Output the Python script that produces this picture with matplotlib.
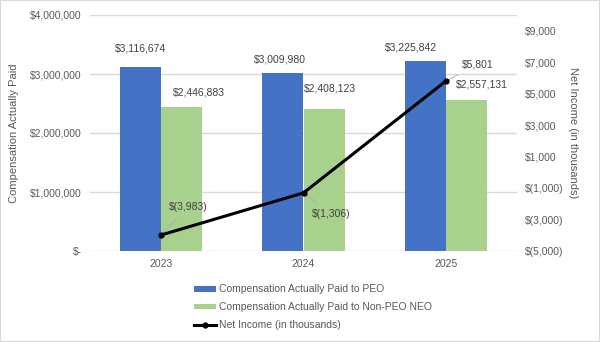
import matplotlib.pyplot as plt
import numpy as np

# datos
years = ['2023', '2024', '2025']
cap_peo = [3116674, 3009980, 3225842]
cap_non_peo = [2446883, 2408123, 2557131]
net_income = [-3983, -1306, 5801]

plt.rcParams['font.family'] = ['Liberation Sans', 'DejaVu Sans']
gray = '#595959'

fig = plt.figure(figsize=(6, 3.42), dpi=100)
ax = fig.add_axes([90/600, 1-251/342, 427/600, 236/342])
ax2 = ax.twinx()

x = np.arange(len(years))
w = 0.29
b1 = ax.bar(x - w/2, cap_peo, w, color='#4472C4', label='Compensation Actually Paid to PEO', zorder=2)
b2 = ax.bar(x + w/2, cap_non_peo, w, color='#A9D18E', label='Compensation Actually Paid to Non-PEO NEO', zorder=2)

ax.set_ylim(0, 4000000)
ax.set_xlim(-0.5, 2.5)
ax.set_yticks([0, 1000000, 2000000, 3000000, 4000000])
ax.set_yticklabels(['$-', '$1,000,000', '$2,000,000', '$3,000,000', '$4,000,000'])
ax.set_xticks(x)
ax.set_xticklabels(years)
ax.grid(axis='y', color='#D9D9D9', linewidth=1, zorder=0)
ax.set_axisbelow(True)
for s in ax.spines.values():
    s.set_visible(False)
for s in ax2.spines.values():
    s.set_visible(False)
ax.tick_params(length=0, labelsize=7.5, colors=gray, pad=6)
ax.set_ylabel('Compensation Actually Paid', fontsize=8, color=gray, labelpad=8)

# etiquetas de barras (desplazamientos en puntos, colocadas a mano como en el original)
peo_off = [(0, 13.5), (-2, 10), (-10, 9.5)]
non_off = [(12, 10), (4, 14.5), (11, 11)]
for i in range(len(years)):
    ax.annotate('${:,}'.format(cap_peo[i]), (x[i] - w/2, cap_peo[i]), xytext=peo_off[i],
                textcoords='offset points', ha='center', va='center', fontsize=7.5, color='#404040')
    ax.annotate('${:,}'.format(cap_non_peo[i]), (x[i] + w/2, cap_non_peo[i]), xytext=non_off[i],
                textcoords='offset points', ha='center', va='center', fontsize=7.5, color='#404040')

# linea de ingreso neto
ln, = ax2.plot(x, net_income, color='black', linewidth=2.2, marker='o', markersize=3.5,
               label='Net Income (in thousands)', zorder=5)
ax2.set_ylim(-5000, 10000)
ax2.set_yticks(np.arange(-5000, 9001, 2000))
ax2.set_yticklabels(['$(5,000)', '$(3,000)', '$(1,000)', '$1,000', '$3,000', '$5,000', '$7,000', '$9,000'])
ax2.tick_params(length=0, labelsize=7.5, colors=gray, pad=6)
ax2.set_ylabel('Net Income (in thousands)', fontsize=8, color=gray, rotation=270, labelpad=10)

def fmt(v):
    return '$({:,})'.format(-v) if v < 0 else '${:,}'.format(v)

offsets = [(19.5, 20), (20, -15), (23, 12)]
for i, v in enumerate(net_income):
    ax2.annotate(fmt(v), (x[i], v), xytext=offsets[i], textcoords='offset points',
                 ha='center', va='center', fontsize=7.5, color='#404040',
                 arrowprops=dict(arrowstyle='-', color='#A6A6A6', lw=0.6, shrinkA=4, shrinkB=2))

fig.legend(handles=[b1, b2, ln], loc='upper left', bbox_to_anchor=(185/600, 1-275/342),
           frameon=False, fontsize=7.5, labelcolor=gray, handlelength=2.1, handleheight=0.5,
           handletextpad=0.3, labelspacing=0.75)

fig.patches.append(plt.Rectangle((0, 0), 1, 1, transform=fig.transFigure, fill=False,
                                 edgecolor='#D9D9D9', linewidth=1.5))

fig.savefig('out.png', dpi=100)
